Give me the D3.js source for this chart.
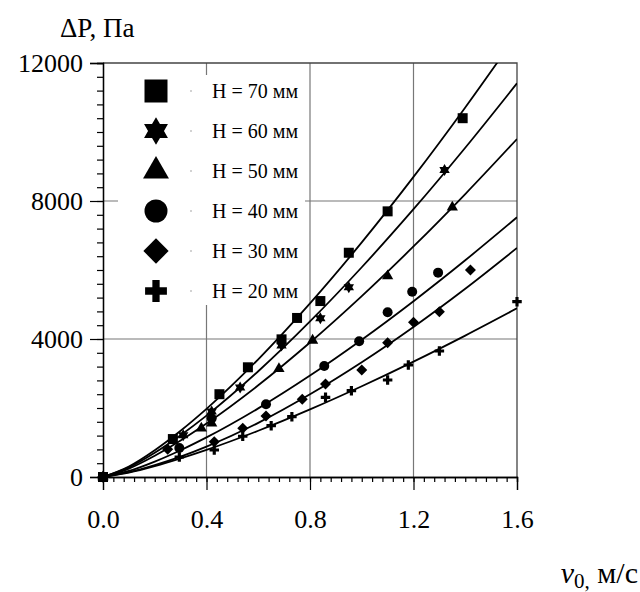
<!DOCTYPE html>
<html>
<head>
<meta charset="utf-8">
<script src="https://cdn.jsdelivr.net/npm/d3@7"></script>
<style>
  body { margin: 0; background: #fff; }
  svg { display: block; }
  text { font-family: "Liberation Serif", "Times New Roman", serif; fill: #000; }
</style>
</head>
<body>
<svg id="chart" width="640" height="592"></svg>
<script>
// Legend labels, top to bottom
const labels = ['H = 70 мм', 'H = 60 мм', 'H = 50 мм', 'H = 40 мм', 'H = 30 мм', 'H = 20 мм'];
const shapes = ['square', 'star', 'triangle', 'circle', 'diamond', 'cross'];

// Measured points [v0, dP]
const pts70 = [[0, 0], [0.27, 1100], [0.45, 2400], [0.56, 3180], [0.69, 3990], [0.75, 4610], [0.84, 5100], [0.95, 6500], [1.10, 7700], [1.39, 10400]];
const pts60 = [[0, 0], [0.31, 1210], [0.42, 1900], [0.53, 2595], [0.69, 3810], [0.84, 4600], [0.95, 5500], [1.32, 8900]];
const pts50 = [[0, 0], [0.38, 1410], [0.42, 1556], [0.68, 3135], [0.81, 3960], [1.10, 5826], [1.35, 7818]];
const pts40 = [[0, 0], [0.295, 840], [0.42, 1700], [0.63, 2110], [0.855, 3217], [0.99, 3933], [1.10, 4773], [1.195, 5372], [1.295, 5923]];
const pts30 = [[0, 0], [0.25, 803], [0.43, 1024], [0.54, 1411], [0.63, 1768], [0.77, 2252], [0.86, 2696], [1.00, 3101], [1.10, 3893], [1.20, 4483], [1.30, 4792], [1.42, 6000]];
const pts20 = [[0, 0], [0.295, 580], [0.43, 783], [0.54, 1180], [0.65, 1488], [0.73, 1748], [0.86, 2310], [0.96, 2502], [1.10, 2812], [1.18, 3246], [1.30, 3652], [1.60, 5082]];

// Fitted curves
const fit70 = [[0, 0], [0.1, 304], [0.2, 775], [0.3, 1340], [0.4, 1974], [0.6, 3412], [0.8, 5032], [1.0, 6800], [1.2, 8698], [1.4, 10712], [1.6, 12825]];
const fit60 = [[0, 0], [0.1, 278], [0.2, 703], [0.3, 1212], [0.4, 1780], [0.6, 3066], [0.8, 4509], [1.0, 6080], [1.2, 7762], [1.4, 9544], [1.6, 11412]];
const fit50 = [[0, 0], [0.1, 245], [0.2, 617], [0.3, 1058], [0.4, 1550], [0.6, 2658], [0.8, 3897], [1.0, 5243], [1.2, 6682], [1.4, 8202], [1.6, 9797]];
const fit40 = [[0, 0], [0.1, 175], [0.2, 448], [0.3, 777], [0.4, 1148], [0.6, 1989], [0.8, 2939], [1.0, 3979], [1.2, 5096], [1.4, 6282], [1.6, 7528]];
const fit30 = [[0, 0], [0.1, 140], [0.2, 345], [0.3, 590], [0.4, 880], [0.6, 1570], [0.8, 2397], [1.0, 3327], [1.2, 4349], [1.4, 5456], [1.6, 6639]];
const fit20 = [[0, 0], [0.1, 126], [0.2, 314], [0.3, 537], [0.4, 784], [0.6, 1340], [0.8, 1958], [1.0, 2629], [1.2, 3344], [1.4, 4099], [1.6, 4889]];

const xMajor = [0, 0.4, 0.8, 1.2, 1.6];
const yMajor = [0, 4000, 8000, 12000];

const series = [pts70, pts60, pts50, pts40, pts30, pts20];
const fits = [fit70, fit60, fit50, fit40, fit30, fit20];

const serif = '"Liberation Serif", "Times New Roman", serif';
const svg = d3.select('#chart');
const x = d3.scaleLinear().domain([0, 1.6]).range([103, 517]);
const y = d3.scaleLinear().domain([0, 12000]).range([477, 63]);

// Marker paths centred on 0,0
const marker = (shape, s) => {
  if (shape === 'star') {
    const R = s * 0.6, r = R / Math.sqrt(3);
    const p = d3.range(12).map(i => {
      const a = -Math.PI / 2 + i * Math.PI / 6;
      const rr = i % 2 ? r : R;
      return [rr * Math.cos(a), rr * Math.sin(a)];
    });
    return 'M' + p.join('L') + 'Z';
  }
  if (shape === 'diamond') {
    const h = s * 0.55;
    return `M0,${-h}L${h},0L0,${h}L${-h},0Z`;
  }
  const type = {
    square: d3.symbolSquare, triangle: d3.symbolTriangle, circle: d3.symbolCircle, cross: d3.symbolCross
  }[shape];
  const area = {square: s * s, triangle: s * s * 0.55, circle: Math.PI * s * s / 4, cross: s * s * 0.5}[shape];
  return d3.symbol().type(type).size(area)();
};

// Grid
const grid = svg.append('g').attr('stroke', '#777').attr('stroke-width', 1.2);
grid.selectAll('.gx').data([0.4, 0.8, 1.2]).enter().append('line')
  .attr('x1', d => x(d)).attr('x2', d => x(d)).attr('y1', y(0)).attr('y2', y(12000));
grid.selectAll('.gy').data([4000, 8000]).enter().append('line')
  .attr('x1', x(0)).attr('x2', x(1.6)).attr('y1', d => y(d)).attr('y2', d => y(d));

// Frame top / right
svg.append('path')
  .attr('d', `M${x(0)},${y(12000)}H${x(1.6)}V${y(0)}`)
  .attr('fill', 'none').attr('stroke', '#444').attr('stroke-width', 1.3);

// Legend background covers the grid
svg.append('rect').attr('x', 118).attr('y', 75).attr('width', 187).attr('height', 230).attr('fill', '#fff');

// Axes: minor then major ticks
const xMinorAxis = d3.axisBottom(x).tickValues(d3.range(0, 41).map(i => i * 0.04)).tickSize(5).tickFormat('');
const xAxis = d3.axisBottom(x).tickValues(xMajor).tickSize(13).tickPadding(20).tickFormat(d3.format('.1f'));
const yMinorAxis = d3.axisLeft(y).tickValues(d3.range(0, 31).map(i => i * 400)).tickSize(6).tickFormat('');
const yAxis = d3.axisLeft(y).tickValues(yMajor).tickSize(13).tickPadding(7).tickFormat(d3.format('d'));

[xMinorAxis, xAxis].forEach(a => svg.append('g').attr('transform', `translate(0,${y(0)})`).call(a));
[yMinorAxis, yAxis].forEach(a => svg.append('g').attr('transform', `translate(${x(0)},0)`).call(a));
svg.selectAll('g').attr('font-family', null);
svg.selectAll('.domain').attr('stroke', '#000').attr('stroke-width', 1.3);
svg.selectAll('.tick line').attr('stroke', '#000').attr('stroke-width', 1.2);
svg.selectAll('.tick text').style('font-size', '26px').style('font-family', serif);

// Curves
svg.append('clipPath').attr('id', 'plot').append('rect')
  .attr('x', x(0)).attr('y', y(12000)).attr('width', x(1.6) - x(0)).attr('height', y(0) - y(12000));
const line = d3.line().x(d => x(d[0])).y(d => y(d[1])).curve(d3.curveMonotoneX);
svg.append('g').attr('clip-path', 'url(#plot)')
  .selectAll('path').data(fits).enter().append('path')
  .attr('d', line).attr('fill', 'none').attr('stroke', '#000').attr('stroke-width', 1.8);

// Points
series.forEach((pts, i) => {
  svg.append('g').selectAll('path').data(pts).enter().append('path')
    .attr('transform', d => `translate(${x(d[0])},${y(d[1])})`)
    .attr('d', marker(shapes[i], 10)).attr('fill', '#000');
});

// Legend
const leg = svg.append('g').selectAll('g').data(labels).enter().append('g')
  .attr('transform', (d, i) => `translate(156,${91 + i * 40})`);
leg.append('path').attr('d', (d, i) => marker(shapes[i], 23)).attr('fill', '#000');
leg.append('circle').attr('cx', 35).attr('r', 0.8).attr('fill', '#999');
leg.append('text').attr('x', 56).attr('y', 7).style('font-size', '20px').style('font-family', serif).text(d => d);

// Axis titles
svg.append('text').attr('x', 60).attr('y', 37).style('font-size', '27px').style('font-family', serif).text('ΔP, Па');
const xt = svg.append('text').attr('x', 638).attr('y', 583).attr('text-anchor', 'end')
  .style('font-size', '30px').style('font-family', serif);
xt.append('tspan').style('font-style', 'italic').text('v');
xt.append('tspan').attr('dy', 5).style('font-size', '21px').text('0,');
xt.append('tspan').attr('dy', -5).text(' м/с');
</script>
</body>
</html>
